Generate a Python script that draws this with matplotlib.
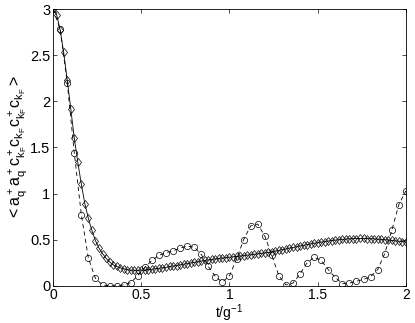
import matplotlib
matplotlib.use("Agg")
import matplotlib.pyplot as plt
import numpy as np

plt.rcParams['font.family'] = ['Liberation Sans', 'DejaVu Sans']
plt.rcParams['mathtext.fontset'] = 'custom'
plt.rcParams['mathtext.rm'] = 'Liberation Sans'
plt.rcParams['mathtext.it'] = 'Liberation Sans'
plt.rcParams['mathtext.default'] = 'regular'

# solid curve with diamonds, t = 0 .. 2 step 0.02
t_solid = np.linspace(0, 2, 101)
y_solid = [3.00, 2.94, 2.77, 2.53, 2.23, 1.92, 1.60, 1.34, 1.10, 0.89,
           0.73, 0.60, 0.49, 0.41, 0.35, 0.30, 0.26, 0.23, 0.21, 0.195,
           0.185, 0.175, 0.17, 0.168, 0.168, 0.17, 0.172, 0.176, 0.18, 0.185,
           0.19, 0.196, 0.20, 0.21, 0.215, 0.22, 0.228, 0.235, 0.24, 0.248,
           0.255, 0.26, 0.268, 0.275, 0.28, 0.287, 0.292, 0.297, 0.302, 0.306,
           0.31, 0.315, 0.32, 0.324, 0.328, 0.333, 0.337, 0.342, 0.347, 0.352,
           0.357, 0.363, 0.37, 0.377, 0.384, 0.392, 0.40, 0.408, 0.416, 0.424,
           0.432, 0.44, 0.447, 0.455, 0.462, 0.468, 0.474, 0.48, 0.486, 0.491,
           0.496, 0.50, 0.504, 0.507, 0.51, 0.512, 0.513, 0.514, 0.514, 0.513,
           0.511, 0.509, 0.506, 0.503, 0.50, 0.496, 0.492, 0.488, 0.484, 0.48,
           0.476]

# dashed curve with circles, t = 0 .. 2 step 0.04
t_dash = np.linspace(0, 2, 51)
y_dash = [3.0, 2.78, 2.20, 1.44, 0.77, 0.30, 0.08, 0.01, 0.0, 0.0,
          0.01, 0.035, 0.11, 0.20, 0.275, 0.33, 0.36, 0.38, 0.41, 0.43,
          0.42, 0.34, 0.21, 0.10, 0.04, 0.11, 0.29, 0.50, 0.65, 0.67,
          0.54, 0.33, 0.11, 0.01, 0.03, 0.13, 0.25, 0.31, 0.275, 0.175,
          0.09, 0.025, 0.03, 0.05, 0.07, 0.10, 0.175, 0.35, 0.60, 0.88,
          1.03]

fig = plt.figure(figsize=(4.15, 3.23), dpi=100)
ax = fig.add_axes([0.128, 0.115, 0.85, 0.857])

ax.plot(t_solid, y_solid, '-', color='black', lw=0.6, marker='d',
        markersize=4.5, markerfacecolor='none', markeredgecolor='black',
        markeredgewidth=0.5)
ax.plot(t_dash, y_dash, '--', color='black', lw=0.6, dashes=(5, 4), marker='o',
        markersize=4.5, markerfacecolor='none', markeredgecolor='black',
        markeredgewidth=0.5)

ax.set_xlim(0, 2)
ax.set_ylim(0, 3)
ax.set_xticks([0, 0.5, 1, 1.5, 2])
ax.set_xticklabels(['0', '0.5', '1', '1.5', '2'])
ax.set_yticks([0, 0.5, 1, 1.5, 2, 2.5, 3])
ax.set_yticklabels(['0', '0.5', '1', '1.5', '2', '2.5', '3'])
ax.tick_params(direction='in', length=3, width=0.5, labelsize=10.5,
               top=True, right=True, pad=2)
ax.tick_params(axis='x', labelsize=10, pad=1.5)
for s in ax.spines.values():
    s.set_linewidth(0.6)

ax.set_xlabel(r'$t/g^{-1}$', fontsize=10, labelpad=0.5)
ax.set_ylabel(r'$<a_q^+a_q^+c_{k_F}^+c_{k_F}c_{k_F}^+c_{k_F}>$', fontsize=11.5, labelpad=1)

fig.savefig('out.png', dpi=100)
